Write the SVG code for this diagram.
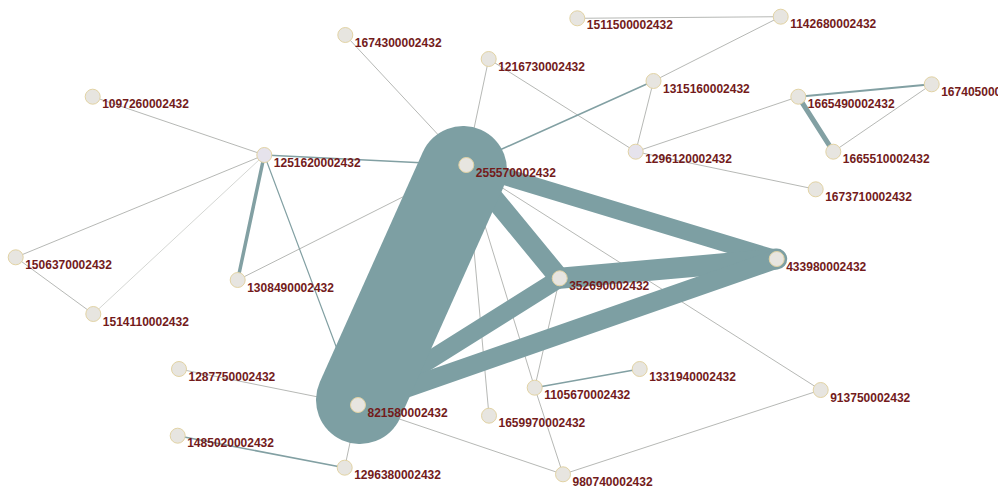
<svg xmlns="http://www.w3.org/2000/svg" width="998" height="491" viewBox="0 0 998 491">
<style>
.thin{stroke:#a3a6a2;stroke-width:0.8;fill:none}
.light{stroke:#c9cbc8;stroke-width:0.8;fill:none}
.med{stroke:#82a0a3;fill:none;stroke-linecap:round}
.rib{stroke:#7d9fa3;fill:none;stroke-linecap:round}
.node circle{fill:#e7e5e0;stroke:#e2d3a4;stroke-width:1}
.node text{font-family:"Liberation Sans",Arial,sans-serif;font-size:12px;font-weight:bold;fill:#731b1b}
</style>
<rect width="998" height="491" fill="#ffffff"/>
<g id="connectors">
<line class="thin" x1="92.7" y1="96.7" x2="264.3" y2="155"/>
<line class="thin" x1="264.3" y1="155" x2="15.7" y2="257.3"/>
<line class="light" x1="264.3" y1="155" x2="93.3" y2="314"/>
<line class="thin" x1="15.7" y1="257.3" x2="93.3" y2="314"/>
<line class="med" style="stroke-width:3.5" x1="264.3" y1="155" x2="237.7" y2="280"/>
<line class="med" style="stroke-width:1.2" x1="264.3" y1="155" x2="358" y2="405"/>
<line class="med" style="stroke-width:1.6" x1="264.3" y1="155" x2="466.3" y2="165"/>
<line class="thin" x1="237.7" y1="280" x2="466.3" y2="165"/>
<line class="thin" x1="345.3" y1="35" x2="466.3" y2="165"/>
<line class="thin" x1="488.7" y1="59" x2="466.3" y2="165"/>
<line class="thin" x1="488.7" y1="59" x2="635.7" y2="151.7"/>
<line class="thin" x1="577.3" y1="18.3" x2="780.7" y2="16.7"/>
<line class="thin" x1="780.7" y1="16.7" x2="653.5" y2="81"/>
<line class="med" style="stroke-width:1.6" x1="653.5" y1="81" x2="466.3" y2="165"/>
<line class="thin" x1="653.5" y1="81" x2="635.7" y2="151.7"/>
<line class="thin" x1="635.7" y1="151.7" x2="798.3" y2="96.7"/>
<line class="thin" x1="635.7" y1="151.7" x2="815.7" y2="189.3"/>
<line class="med" style="stroke-width:2" x1="798.3" y1="96.7" x2="931.7" y2="84.3"/>
<line class="med" style="stroke-width:5" x1="798.3" y1="96.7" x2="833.3" y2="151.7"/>
<line class="thin" x1="833.3" y1="151.7" x2="931.7" y2="84.3"/>
<line class="thin" x1="466.3" y1="165" x2="820.7" y2="390"/>
<line class="thin" x1="466.3" y1="165" x2="534.7" y2="387.7"/>
<line class="thin" x1="466.3" y1="165" x2="489" y2="415.7"/>
<line class="thin" x1="559.7" y1="278.3" x2="534.7" y2="387.7"/>
<line class="med" style="stroke-width:1.6" x1="534.7" y1="387.7" x2="639.7" y2="369"/>
<line class="thin" x1="534.7" y1="387.7" x2="563" y2="474.3"/>
<line class="thin" x1="358" y1="405" x2="563" y2="474.3"/>
<line class="thin" x1="563" y1="474.3" x2="820.7" y2="390"/>
<line class="thin" x1="358" y1="405" x2="179" y2="369"/>
<line class="thin" x1="358" y1="405" x2="344.7" y2="467.7"/>
<line class="med" style="stroke-width:1.6" x1="344.7" y1="467.7" x2="177.7" y2="435.7"/>
<line class="rib" style="stroke-width:17" x1="466.3" y1="165" x2="776.7" y2="259"/>
<line class="rib" style="stroke-width:20" x1="466.3" y1="165" x2="559.7" y2="278.3"/>
<line class="rib" style="stroke-width:21" x1="559.7" y1="278.3" x2="776.7" y2="259"/>
<line class="rib" style="stroke-width:18" x1="358" y1="405" x2="559.7" y2="278.3"/>
<line class="rib" style="stroke-width:19" x1="358" y1="405" x2="776.7" y2="259"/>
<line class="rib" style="stroke-width:88" x1="463" y1="170" x2="360" y2="400"/>
</g>
<g id="n1097260002432" class="node"><circle cx="92.7" cy="96.7" r="7.5"/><text x="102.2" y="108.2">1097260002432</text></g>
<g id="n1251620002432" class="node"><circle cx="264.3" cy="155" r="7.5" style="fill:#e6e3ec"/><text x="273.8" y="166.5">1251620002432</text></g>
<g id="n1674300002432" class="node"><circle cx="345.3" cy="35" r="7.5"/><text x="354.8" y="46.5">1674300002432</text></g>
<g id="n1511500002432" class="node"><circle cx="577.3" cy="18.3" r="7.5"/><text x="586.8" y="29.3">1511500002432</text></g>
<g id="n1142680002432" class="node"><circle cx="780.7" cy="16.7" r="7.5"/><text x="790.2" y="28.2">1142680002432</text></g>
<g id="n1216730002432" class="node"><circle cx="488.7" cy="59" r="7.5"/><text x="498.2" y="70.5">1216730002432</text></g>
<g id="n1315160002432" class="node"><circle cx="653.5" cy="81" r="7.5"/><text x="663" y="92.5">1315160002432</text></g>
<g id="n1296120002432" class="node"><circle cx="635.7" cy="151.7" r="7.5" style="fill:#e6e3ec"/><text x="645.2" y="163.2">1296120002432</text></g>
<g id="n1665490002432" class="node"><circle cx="798.3" cy="96.7" r="7.5"/><text x="807.8" y="108.2">1665490002432</text></g>
<g id="n1674050002432" class="node"><circle cx="931.7" cy="84.3" r="7.5"/><text x="941.2" y="95.8">1674050002432</text></g>
<g id="n1665510002432" class="node"><circle cx="833.3" cy="151.7" r="7.5"/><text x="842.8" y="163.2">1665510002432</text></g>
<g id="n1673710002432" class="node"><circle cx="815.7" cy="189.3" r="7.5"/><text x="825.2" y="200.8">1673710002432</text></g>
<g id="n255570002432" class="node"><circle cx="466.3" cy="165" r="7.5"/><text x="475.8" y="176.5">255570002432</text></g>
<g id="n1506370002432" class="node"><circle cx="15.7" cy="257.3" r="7.5"/><text x="25.2" y="268.8">1506370002432</text></g>
<g id="n1308490002432" class="node"><circle cx="237.7" cy="280" r="7.5"/><text x="247.2" y="291.5">1308490002432</text></g>
<g id="n1514110002432" class="node"><circle cx="93.3" cy="314" r="7.5"/><text x="102.8" y="325.5">1514110002432</text></g>
<g id="n352690002432" class="node"><circle cx="559.7" cy="278.3" r="7.5"/><text x="569.2" y="289.8">352690002432</text></g>
<g id="n433980002432" class="node"><circle cx="776.7" cy="259" r="7.5"/><text x="786.2" y="270.5">433980002432</text></g>
<g id="n1287750002432" class="node"><circle cx="179" cy="369" r="7.5"/><text x="188.5" y="380.5">1287750002432</text></g>
<g id="n1331940002432" class="node"><circle cx="639.7" cy="369" r="7.5"/><text x="649.2" y="380.5">1331940002432</text></g>
<g id="n1105670002432" class="node"><circle cx="534.7" cy="387.7" r="7.5"/><text x="544.2" y="399.2">1105670002432</text></g>
<g id="n821580002432" class="node"><circle cx="358" cy="405" r="7.5"/><text x="367.5" y="416.5">821580002432</text></g>
<g id="n1659970002432" class="node"><circle cx="489" cy="415.7" r="7.5"/><text x="498.5" y="427.2">1659970002432</text></g>
<g id="n913750002432" class="node"><circle cx="820.7" cy="390" r="7.5"/><text x="830.2" y="401.5">913750002432</text></g>
<g id="n1485020002432" class="node"><circle cx="177.7" cy="435.7" r="7.5"/><text x="187.2" y="447.2">1485020002432</text></g>
<g id="n1296380002432" class="node"><circle cx="344.7" cy="467.7" r="7.5"/><text x="354.2" y="479.2">1296380002432</text></g>
<g id="n980740002432" class="node"><circle cx="563" cy="474.3" r="7.5"/><text x="572.5" y="485.8">980740002432</text></g>
</svg>
